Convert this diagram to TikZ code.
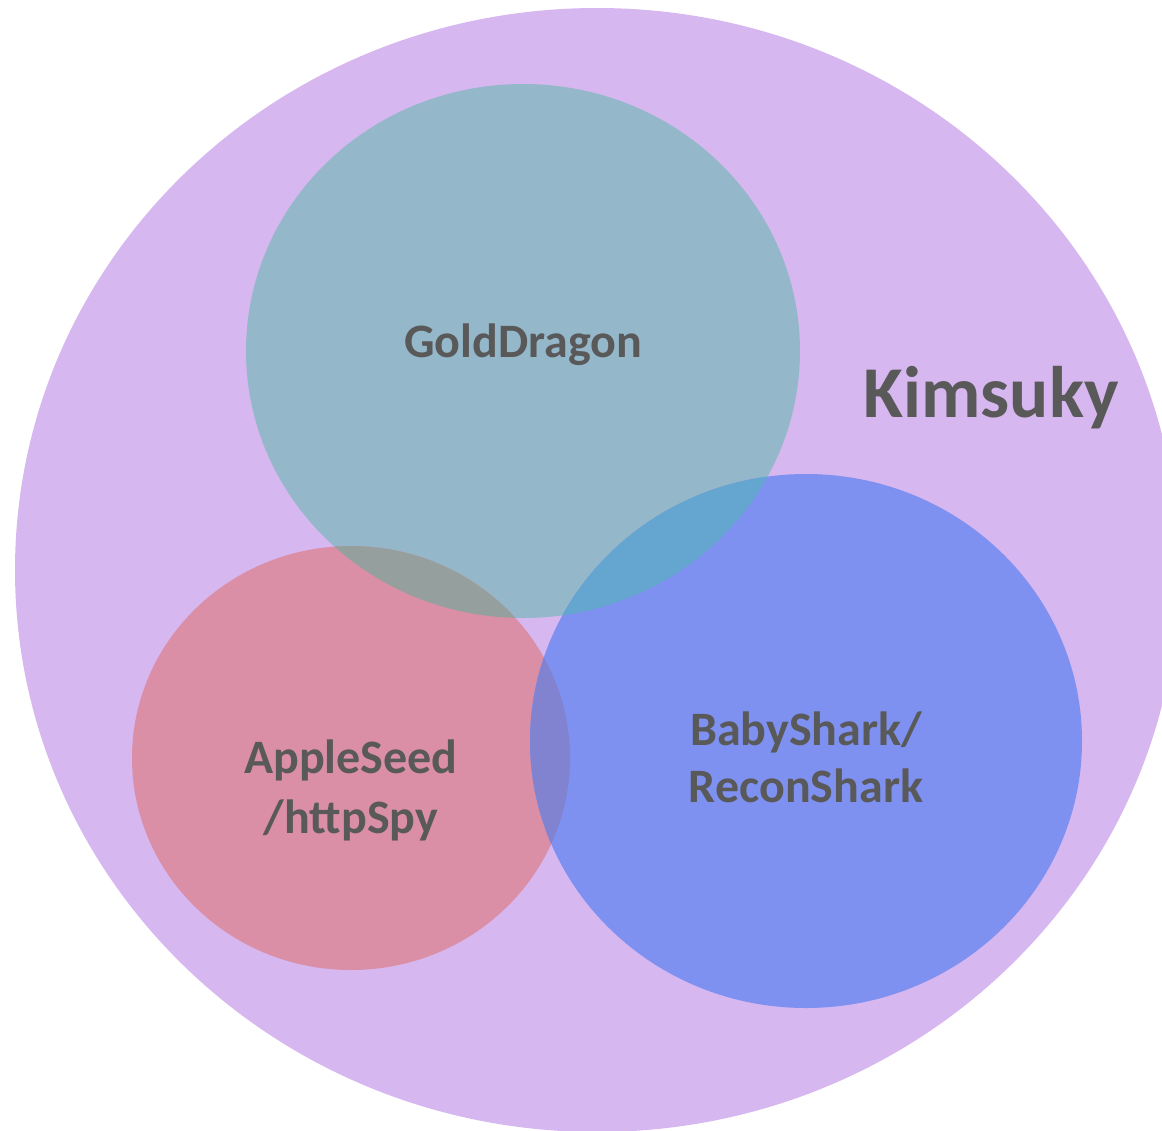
\documentclass[tikz,border=0pt]{standalone}
\usepackage{fontspec}
\setmainfont{Carlito}
\begin{document}
\begin{tikzpicture}[x=1pt,y=-1pt,
  lbl/.style={text=labelgray,align=center,inner sep=0pt,anchor=base},
]
\definecolor{outerfill}{HTML}{D7B7EF}
\definecolor{gdfill}{HTML}{95B7CA}
\definecolor{asfill}{HTML}{DA8FA7}
\definecolor{bsfill}{HTML}{7E91F0}
\definecolor{gdbs}{HTML}{64A6CF}
\definecolor{gdas}{HTML}{95A09E}
\definecolor{asbs}{HTML}{8183D1}
\definecolor{labelgray}{HTML}{595959}
\useasboundingbox (0,0) rectangle (1162,1130);
\clip (0,0) rectangle (1162,1130);
% outer group
\fill[outerfill] (597,570) ellipse [x radius=582, y radius=562];
% malware families
\fill[gdfill] (523,351) ellipse [x radius=277, y radius=267];
\fill[asfill] (351,758) ellipse [x radius=219, y radius=212];
\fill[bsfill] (806,741) ellipse [x radius=276, y radius=267];
% overlaps
\begin{scope}
  \clip (523,351) ellipse [x radius=277, y radius=267];
  \fill[gdbs] (806,741) ellipse [x radius=276, y radius=267];
  \fill[gdas] (351,758) ellipse [x radius=219, y radius=212];
\end{scope}
\begin{scope}
  \clip (351,758) ellipse [x radius=219, y radius=212];
  \fill[asbs] (806,741) ellipse [x radius=276, y radius=267];
\end{scope}
% labels (anchor=base sits on the last line)
\node[lbl,font=\bfseries\fontsize{73}{80}\selectfont] (kim) at (991,417) {Kimsuky};
\node[lbl,font=\bfseries\fontsize{48}{58}\selectfont] (gd) at (523,357) {GoldDragon};
\node[lbl,font=\bfseries\fontsize{48}{60}\selectfont] (as) at (351,833) {AppleSeed\\/httpSpy};
\node[lbl,font=\bfseries\fontsize{48}{57}\selectfont] (bs) at (806,802) {BabyShark/\\ReconShark};
\end{tikzpicture}
\end{document}
